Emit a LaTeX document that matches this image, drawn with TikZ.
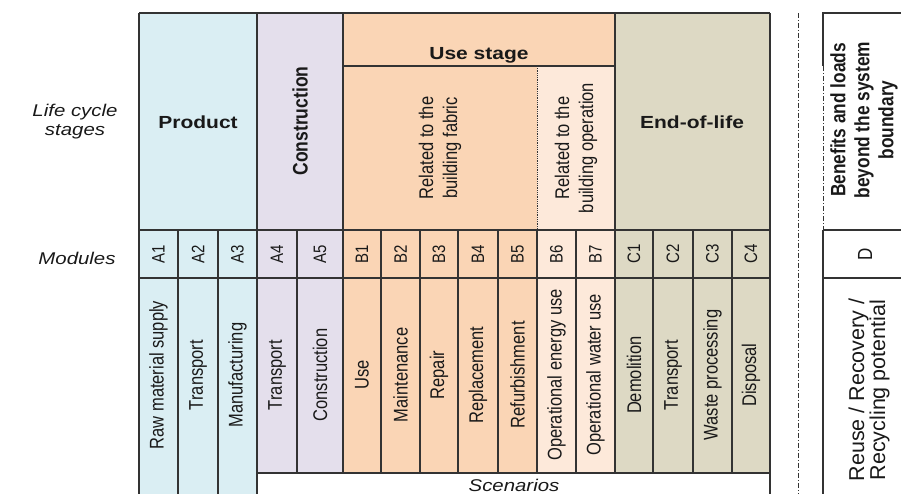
\documentclass[tikz,border=0pt]{standalone}
\usepackage{fontspec}
\setmainfont{Liberation Sans}
\usepackage{xcolor}
\usepackage{tikz}
\usetikzlibrary{positioning}
\definecolor{prodblue}{HTML}{DAEEF3}
\definecolor{conslilac}{HTML}{E4DFEC}
\definecolor{usepeach}{HTML}{FAD5B5}
\definecolor{operpeach}{HTML}{FDE9DA}
\definecolor{eolkhaki}{HTML}{DDD9C4}
\definecolor{gridgray}{HTML}{333333}

\begin{document}
\begin{tikzpicture}[
    x=1pt, y=-1pt,
    grid/.style={draw=gridgray, line width=1.1pt},
    sepline/.style={draw=gridgray, line width=0.9pt, dash pattern=on 5pt off 2pt on 1pt off 2pt},
    title/.style={font=\fontsize{17.5}{21}\selectfont\bfseries, text=black!90,
        xscale=1.2, align=center, inner sep=0pt},
    vtitle/.style={title, rotate=90},
    modlbl/.style={font=\fontsize{15}{17}\selectfont, text=black!90,
        xscale=1.2, rotate=90, inner sep=0pt},
    desc/.style={font=\fontsize{16.5}{20}\selectfont, text=black!90,
        xscale=1.2, rotate=90, align=center, inner sep=0pt},
    side/.style={font=\fontsize{17}{19}\selectfont\itshape, text=black!90,
        xscale=1.2, align=center, inner sep=0pt},
    dtext/.style={font=\fontsize{21.5}{19}\selectfont, text=black!90,
        rotate=90, align=center, inner sep=0pt}
]
    \useasboundingbox (0,0) rectangle (901,493);
    \clip (0,0) rectangle (901,493);

    % stage fills
    \fill[prodblue] (139,13) rectangle (257,500);
    \fill[conslilac] (257,13) rectangle (343,473);
    \fill[usepeach] (343,13) rectangle (615,473);
    \fill[operpeach] (537,66) rectangle (615,473);
    \fill[eolkhaki] (615,13) rectangle (770,473);

    % table grid
    \draw[grid] (139,13) -- (770,13);
    \foreach \y in {230, 278}
        \draw[grid] (139,\y) -- (770,\y);
    \draw[grid] (343,66) -- (615,66);
    \draw[grid] (257,473) -- (770,473);
    \foreach \x in {139, 257, 770}
        \draw[grid] (\x,13) -- (\x,500);
    \foreach \x in {343, 615}
        \draw[grid] (\x,13) -- (\x,473);
    \foreach \x in {178, 218}
        \draw[grid] (\x,230) -- (\x,500);
    \foreach \x in {297, 381, 420, 458, 498, 537, 576, 653, 693, 732}
        \draw[grid] (\x,230) -- (\x,473);
    \draw[gridgray, line width=0.8pt, densely dotted] (537,66) -- (537,230);

    % system boundary and module D
    \draw[sepline] (798,13) -- (798,500);
    \draw[grid] (910,13) -- (823,13) -- (823,66);
    \draw[sepline] (823,66) -- (823,230);
    \draw[grid] (823,230) -- (823,500);
    \foreach \y in {230, 278}
        \draw[grid] (823,\y) -- (910,\y);

    % row labels
    \node[side] (lcs) at (75,122) {Life cycle\\stages};
    \node[side] (modrow) at (77,258) {Modules};
    \node[side] (scen) at (514,485) {Scenarios};

    % stage titles
    \node[title] (prod) at (198,122) {Product};
    \node[vtitle] (cons) at (300,121) {Construction};
    \node[title] (use) at (479,55) {Use stage};
    \node[desc] (fabric) at (440,148) {Related to the\\building fabric};
    \node[desc] (oper) at (576,148) {Related to the\\building operation};
    \node[title] (eol) at (692,122) {End-of-life};

    % modules and their descriptions
    \foreach \xa/\xb/\m/\t in {139/178/A1/Raw material supply, 178/218/A2/Transport,
        218/257/A3/Manufacturing, 257/297/A4/Transport, 297/343/A5/Construction,
        343/381/B1/Use, 381/420/B2/Maintenance, 420/458/B3/Repair,
        458/498/B4/Replacement, 498/537/B5/Refurbishment,
        537/576/B6/Operational energy use, 576/615/B7/Operational water use,
        615/653/C1/Demolition, 653/693/C2/Transport, 693/732/C3/Waste processing,
        732/770/C4/Disposal} {
        \node[modlbl] (m-\m) at ({(\xa+\xb)/2},254) {\m};
        \node[desc] (d-\m) at ({(\xa+\xb)/2},375) {\t};
    }

    % beyond the system boundary
    \node[vtitle, font=\fontsize{17.3}{20}\selectfont\bfseries] (ben) at (864,120)
        {Benefits and loads\\beyond the system\\boundary};
    \node[modlbl, font=\fontsize{17}{17}\selectfont] (m-D) at (865,254) {D};
    \node[dtext] (d-D) at (869,390) {Reuse / Recovery /\\Recycling potential};
\end{tikzpicture}
\end{document}
